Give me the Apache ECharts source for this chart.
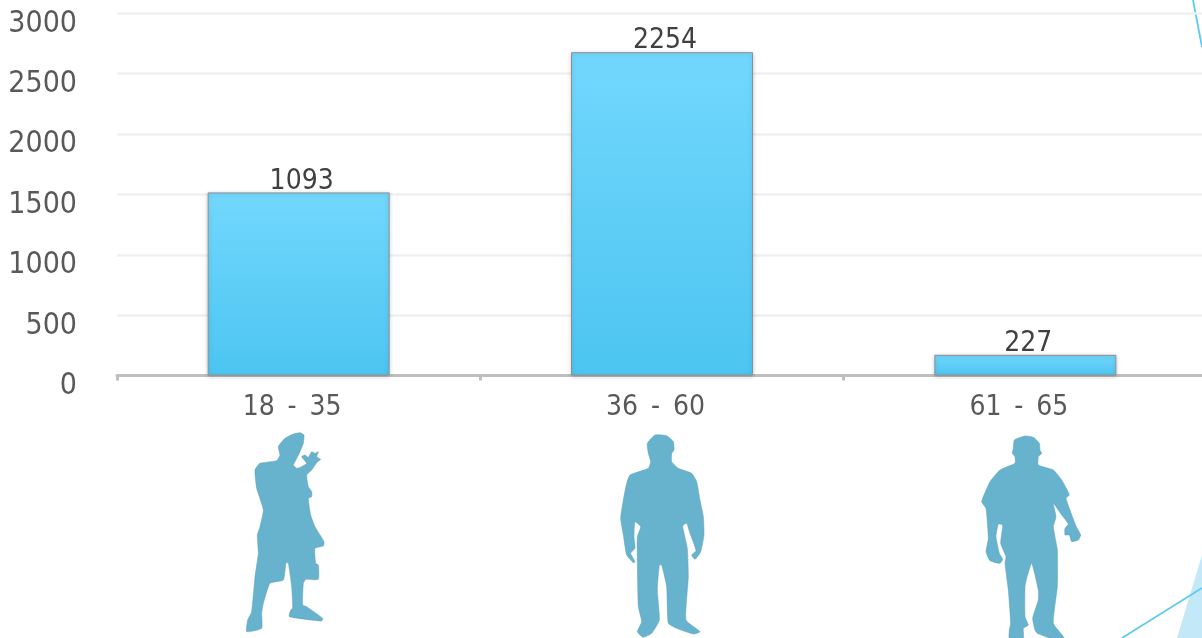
<!DOCTYPE html>
<html>
<head>
<meta charset="utf-8">
<style>html,body{margin:0;padding:0;background:#fff;overflow:hidden}#c{width:1202px;height:638px}</style>
<script src="https://cdn.jsdelivr.net/npm/echarts@6/dist/echarts.min.js"></script>
</head>
<body>
<div id="c"></div>
<script>
const categories = ['18 - 35', '36 - 60', '61 - 65'];
const barValues = [1517, 2678, 172];
const barLabels = ['1093', '2254', '227'];
const yTicks = {min: 0, max: 3000, interval: 500};

const figureYoung = [[300,38],[312,45],[310,70],[298,100],[285,125],[280,135],[290,145],[305,140],[320,130],[305,110],[315,105],[325,112],[335,95],[345,100],[355,95],[350,110],[362,118],[350,128],[335,150],[320,165],[325,200],[335,215],[335,230],[325,235],[332,285],[345,320],[372,365],[370,378],[345,385],[347,430],[355,435],[355,478],[318,478],[310,490],[308,555],[320,560],[368,595],[365,603],[268,590],[272,570],[278,565],[275,500],[265,430],[258,428],[250,480],[210,490],[190,550],[185,580],[185,625],[140,635],[143,600],[155,575],[165,470],[175,400],[172,345],[180,320],[190,270],[170,205],[165,150],[180,130],[230,122],[240,105],[235,80],[255,55],[280,42]];
const figureAdult = [[225,45],[260,47],[280,65],[282,90],[275,100],[275,125],[295,145],[335,160],[350,185],[360,240],[370,290],[372,345],[362,395],[345,418],[335,405],[348,392],[330,340],[320,310],[308,318],[322,385],[325,470],[318,600],[360,635],[340,642],[290,625],[265,610],[260,500],[245,435],[238,435],[232,510],[238,600],[215,640],[190,652],[172,635],[185,605],[175,560],[172,420],[172,350],[182,320],[165,305],[162,350],[165,385],[152,400],[165,425],[160,428],[140,405],[130,345],[122,295],[130,240],[140,190],[150,165],[205,145],[212,125],[205,100],[202,70]];
const figureSenior = [[193,60],[225,48],[250,52],[268,70],[270,90],[275,100],[265,110],[265,135],[310,150],[335,180],[358,225],[348,235],[378,318],[392,345],[385,360],[365,365],[358,345],[345,345],[345,325],[355,312],[335,285],[310,250],[318,290],[310,320],[322,390],[322,500],[310,610],[342,654],[300,654],[262,640],[255,630],[248,595],[265,540],[265,510],[245,430],[230,475],[225,500],[225,590],[235,615],[220,625],[220,654],[178,654],[178,630],[182,610],[175,510],[165,430],[168,410],[152,370],[158,315],[145,312],[138,350],[148,400],[158,418],[150,430],[120,422],[108,395],[115,355],[108,265],[95,245],[120,185],[150,150],[195,130],[195,110],[187,100],[190,85]];

const AXIS_FONT = '"DejaVu Sans Condensed","DejaVu Sans",sans-serif';
const figure = (pts, x, y) => ({
  type: 'polygon', x, y, scaleX: 1/3, scaleY: 1/3, silent: true,
  shape: {points: pts, smooth: 0.15},
  style: {fill: '#67b2cc', stroke: '#5d9fb6', lineWidth: 1.5}
});
const segment = (x1, y1, x2, y2) => ({
  type: 'line', silent: true, shape: {x1, y1, x2, y2},
  style: {stroke: '#5ccbf2', lineWidth: 1.8}
});

const chart = echarts.init(document.getElementById('c'), null, {renderer: 'canvas'});
chart.setOption({
  animation: false,
  backgroundColor: '#ffffff',
  grid: {left: 117, top: 13.3, width: 1090, height: 362.3, containLabel: false, outerBoundsMode: 'none'},
  xAxis: {
    type: 'category',
    data: categories,
    axisLine: {show: true, lineStyle: {color: '#bfbfbf', width: 3}},
    axisTick: {show: true, length: 5, lineStyle: {color: '#bfbfbf', width: 3}},
    axisLabel: {
      interval: 0, margin: 10, padding: [0, 13, 0, 0],
      formatter: v => v.split(' ').map(p => '{d|' + p + '}').join('{s| }'),
      rich: {
        d: {color: '#595959', fontFamily: AXIS_FONT, fontSize: 28},
        s: {fontFamily: AXIS_FONT, fontSize: 45}
      }
    },
    splitLine: {show: false}
  },
  yAxis: {
    type: 'value',
    min: yTicks.min, max: yTicks.max, interval: yTicks.interval,
    axisLine: {show: false},
    axisTick: {show: false},
    axisLabel: {
      color: '#595959', fontFamily: AXIS_FONT, fontSize: 30, margin: 40,
      verticalAlign: 'top', lineHeight: 21,
      formatter: v => String(v)
    },
    splitLine: {show: true, lineStyle: {color: '#f0f0f0', width: 2.5}}
  },
  series: [{
    type: 'bar',
    data: barValues,
    barWidth: 182,
    itemStyle: {
      color: new echarts.graphic.LinearGradient(0, 0, 0, 1, [
        {offset: 0, color: '#72d7fd'},
        {offset: 1, color: '#4cc5f1'}
      ]),
      borderColor: '#8f8f8f', borderWidth: 1,
      shadowColor: 'rgba(0,0,0,0.2)', shadowBlur: 4, shadowOffsetY: 1
    },
    label: {
      show: true, position: 'top', distance: 0, offset: [3, 3],
      formatter: p => barLabels[p.dataIndex],
      color: '#404040', fontFamily: AXIS_FONT, fontSize: 28
    }
  }],
  graphic: [
    segment(1193, 0, 1202, 47),
    {type: 'polygon', silent: true, shape: {points: [[1177,638],[1202,555],[1202,638]]}, style: {fill: '#c3e9f8'}},
    segment(1122, 638, 1202, 588),
    figure(figureYoung, 200, 420),
    figure(figureAdult, 580, 420),
    figure(figureSenior, 950, 420)
  ]
});
</script>
</body>
</html>
